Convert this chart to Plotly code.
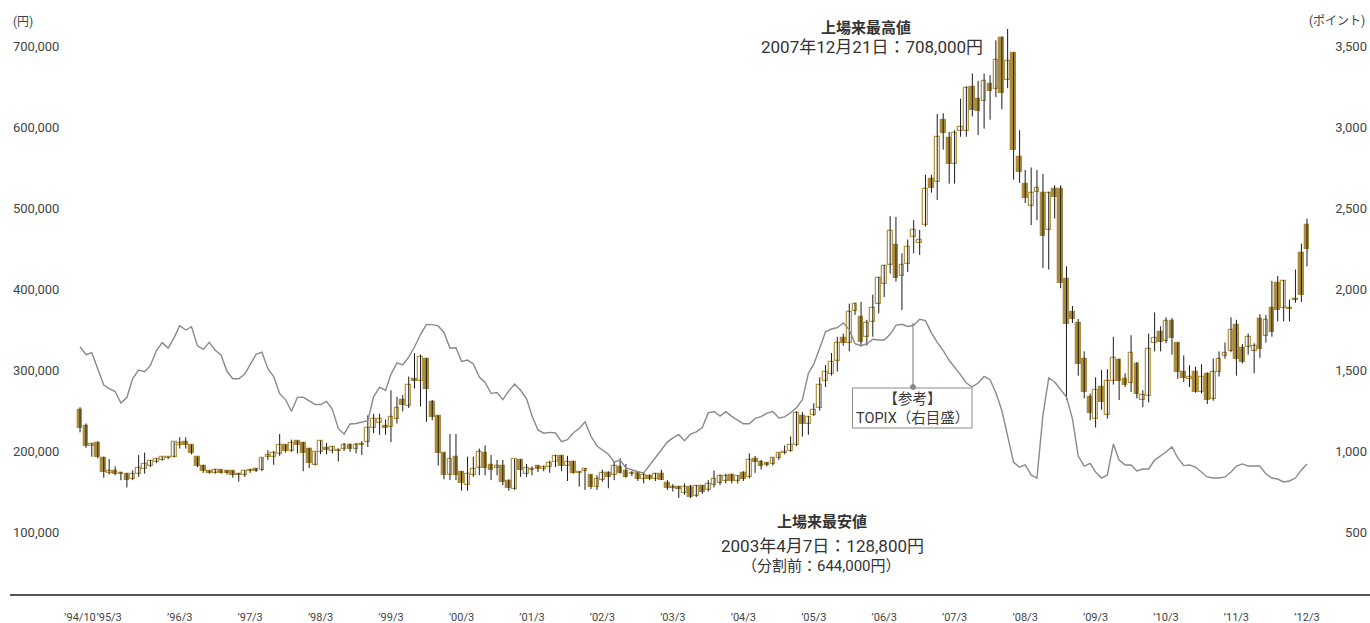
import plotly.graph_objects as go
import pandas as pd

# ---------------- data (thousand yen for price, points for TOPIX) ----------------
months = pd.date_range("1994-10-01", periods=210, freq="MS")

open_ = [251,231,206,210,191,173,175,173,172,166,172,178,182,187,189,191,193,207,211,207,
         192,182,175,173,176,175,175,172,170,175,178,177,193,193,196,207,200,212,210,203,
         183,199,204,200,200,202,207,202,208,211,229,234,231,230,240,263,255,289,286,314,
         261,243,197,170,193,174,158,170,179,197,183,179,182,163,153,189,172,177,181,178,
         180,187,194,182,187,173,175,170,156,164,173,170,180,175,171,173,165,169,165,172,
         161,155,155,148,156,145,157,152,158,161,163,170,163,173,168,190,186,185,184,191,
         197,200,207,243,233,245,253,286,295,311,339,333,373,366,341,359,382,406,430,454,
         416,431,464,457,479,536,532,609,587,554,595,595,649,635,632,653,647,710,658,691,
         563,530,503,520,518,473,523,523,412,372,358,313,267,239,279,244,286,312,289,284,
         307,263,268,333,347,336,361,333,298,289,297,273,295,264,297,317,324,356,327,328,
         323,363,342,376,408,377,377,388,445,479]
high = [254,234,210,212,193,190,181,174,173,176,195,198,189,191,193,193,211,217,217,208,
        193,183,176,178,177,176,176,173,176,178,179,192,201,200,221,208,214,213,211,204,
        199,213,210,206,203,210,209,210,212,244,246,246,239,275,267,269,292,321,319,315,
        263,244,198,221,221,175,193,193,203,207,195,189,189,165,190,190,184,181,182,182,
        188,195,195,194,188,175,179,171,170,177,175,187,191,184,175,175,174,171,173,177,
        164,159,157,160,158,158,158,164,176,171,172,172,170,175,197,194,189,186,192,198,
        207,218,249,248,243,259,291,306,321,341,345,382,383,384,362,393,415,430,490,489,
        444,461,485,473,541,541,616,617,594,596,635,650,666,657,666,664,707,712,721,692,
        596,547,550,547,542,520,528,528,428,379,363,323,271,291,300,301,341,314,296,343,
        310,275,345,371,354,365,364,334,318,306,304,307,297,314,323,334,365,362,332,345,
        333,369,368,410,416,411,387,424,456,487]
low = [223,204,193,191,167,171,170,164,155,164,168,172,180,185,188,190,192,203,203,196,
       180,173,172,172,172,171,167,162,168,173,174,175,189,183,194,198,199,197,175,179,
       182,196,196,197,187,200,199,197,195,205,222,220,220,211,234,249,253,277,255,236,
       238,182,165,164,164,151,151,168,170,170,164,170,158,151,152,168,168,170,174,175,
       173,180,175,163,172,156,152,153,152,162,154,164,172,167,169,163,160,164,163,164,
       152,150,142,146,142,143,147,150,155,158,160,160,160,163,166,173,177,181,182,189,
       196,199,206,218,220,243,250,279,293,298,330,323,368,329,330,341,370,390,419,409,
       374,421,444,442,477,519,510,572,530,530,588,588,613,590,598,609,637,622,648,535,
       531,506,479,485,426,424,487,401,263,358,293,265,238,229,251,240,282,263,279,273,
       265,254,260,323,323,333,319,289,285,279,272,271,258,262,292,314,322,293,308,319,
       296,315,334,341,360,360,360,383,384,428]
close = [229,206,209,193,174,175,171,171,164,172,179,184,188,190,192,193,211,210,207,197,
         181,175,173,177,173,173,170,170,175,177,175,191,195,197,207,200,210,208,198,185,
         199,212,201,205,201,208,203,208,209,229,239,239,229,242,253,257,281,287,316,277,
         242,197,170,190,170,160,172,178,199,179,177,182,162,154,190,177,179,178,178,180,
         185,194,182,187,173,174,178,155,165,173,168,182,173,168,173,165,170,165,171,164,
         154,154,153,156,143,157,149,159,165,169,169,163,169,165,189,187,182,183,191,197,
         199,208,247,233,242,251,282,297,310,333,333,371,381,335,358,377,414,428,472,414,
         430,452,473,461,523,525,588,592,554,592,600,648,621,620,657,644,683,642,682,571,
         544,512,519,525,466,518,514,407,357,363,308,273,247,275,260,286,315,287,282,321,
         270,269,326,340,335,361,339,298,290,291,273,291,263,298,313,321,350,313,310,341,
         330,326,362,347,374,410,375,386,393,449]
topix = [1644,1594,1607,1503,1407,1385,1367,1296,1330,1447,1500,1489,1528,1620,1669,1635,1700,1774,1747,1767,
         1649,1627,1671,1622,1593,1492,1446,1446,1475,1533,1597,1610,1508,1459,1354,1316,1245,1331,1332,1309,
         1287,1287,1306,1257,1139,1104,1167,1170,1179,1187,1334,1394,1374,1473,1544,1531,1579,1642,1719,1781,
         1780,1772,1732,1634,1637,1553,1561,1537,1456,1423,1356,1361,1317,1371,1414,1375,1322,1218,1130,1110,
         1115,1111,1058,1070,1111,1139,1180,1091,1031,1005,980,933,944,896,882,872,864,911,959,1009,
         1055,1081,1101,1064,1105,1118,1145,1235,1244,1215,1243,1214,1192,1168,1168,1201,1212,1234,1243,1204,
         1211,1236,1267,1317,1479,1536,1636,1736,1753,1761,1791,1749,1662,1650,1662,1690,1685,1685,1720,1776,
         1782,1769,1776,1813,1805,1729,1670,1620,1560,1520,1470,1420,1395,1420,1460,1440,1360,1250,1100,930,
         900,914,852,833,1222,1451,1426,1377,1333,1198,969,907,923,870,833,852,1043,944,914,914,
         877,889,889,944,969,994,1025,957,910,914,901,870,840,833,833,840,870,907,920,907,
         907,907,858,833,827,809,815,833,883,920]

tick_dates = ["1994-10-01", "1995-03-01", "1996-03-01", "1997-03-01", "1998-03-01", "1999-03-01",
              "2000-03-01", "2001-03-01", "2002-03-01", "2003-03-01", "2004-03-01", "2005-03-01",
              "2006-03-01", "2007-03-01", "2008-03-01", "2009-03-01", "2010-03-01", "2011-03-01",
              "2012-03-01"]
tick_labels = ["’94/10", "’95/3", "’96/3", "’97/3", "’98/3", "’99/3", "’00/3", "’01/3", "’02/3",
               "’03/3", "’04/3", "’05/3", "’06/3", "’07/3", "’08/3", "’09/3", "’10/3", "’11/3", "’12/3"]
left_ticks = [100000, 200000, 300000, 400000, 500000, 600000, 700000]
right_ticks = [500, 1000, 1500, 2000, 2500, 3000, 3500]

# ---------------- figure ----------------
W, H = 1370, 623
LM, RM, TM, BM = 10, 0, 20, 29
def px(x):
    return (x - LM) / (W - LM - RM)
def py(y):
    return 1 - (y - TM) / (H - TM - BM)

GOLD = "#A98B3B"
GOLD_LINE = "#B99A4A"
K = 1000

fig = go.Figure()

# wicks
wx, wy = [], []
for d, h, l in zip(months, high, low):
    wx += [d, d, None]
    wy += [l * K, h * K, None]
fig.add_trace(go.Scatter(x=wx, y=wy, mode="lines", line=dict(color="#1b1b1b", width=1),
                         hoverinfo="skip", yaxis="y"))

# bodies
base = [min(o, c) * K for o, c in zip(open_, close)]
hgt = [max(abs(c - o), 1.2) * K for o, c in zip(open_, close)]
fills = [GOLD if o > c else "white" for o, c in zip(open_, close)]
lines = [GOLD if o > c else GOLD_LINE for o, c in zip(open_, close)]
fig.add_trace(go.Bar(x=months, y=hgt, base=base, width=24.5 * 86400000,
                     marker=dict(color=fills, line=dict(color=lines, width=1.3)),
                     yaxis="y", hoverinfo="skip"))

# TOPIX
fig.add_trace(go.Scatter(x=months, y=topix, mode="lines", yaxis="y2",
                         line=dict(color="#8a8a8a", width=1.4), hoverinfo="skip"))

tickfont = dict(family="Roboto", size=13, color="#444")
fig.update_layout(
    width=W, height=H, margin=dict(l=LM, r=RM, t=TM, b=BM, autoexpand=False),
    paper_bgcolor="white", plot_bgcolor="white", showlegend=False,
    barmode="overlay", bargap=0,
    xaxis=dict(type="date", range=["1993-10-03", "2013-01-21 14:00"],
               tickvals=tick_dates, ticktext=tick_labels, tickangle=0, automargin=False,
               showgrid=False, zeroline=False,
               showline=True, linecolor="#555", linewidth=1.5, ticks="",
               ticklabelstandoff=12, tickfont=dict(family="Roboto", size=11, color="#444")),
    yaxis=dict(range=[23457, 732099], tickvals=left_ticks, tickformat=",", automargin=False,
               ticklabelposition="inside", showgrid=False, zeroline=False, showline=False,
               ticks="", tickfont=tickfont),
    yaxis2=dict(range=[117.28, 3660.5], tickvals=right_ticks, tickformat=",", automargin=False,
                overlaying="y", side="right", ticklabelposition="inside",
                showgrid=False, zeroline=False, showline=False, ticks="", tickfont=tickfont),
)

jp = "Roboto, Noto Sans CJK JP"
def note(text, x, y, size=15, bold=False, color="#333", xanchor="center"):
    if bold:
        text = "<b>" + text + "</b>"
    fig.add_annotation(text=text, x=px(x), y=py(y), xref="paper", yref="paper",
                       xanchor=xanchor, yanchor="middle", showarrow=False,
                       font=dict(family=jp, size=size, color=color))

note("(円)", 11, 22, size=12, xanchor="left", color="#444")
note("(ポイント)", 1367, 21, size=12, xanchor="right", color="#444")
note("上場来最高値", 866, 28, size=15, bold=True)
note("2007年12月21日：708,000円", 872, 47, size=17)
note("上場来最安値", 822, 522, size=15, bold=True)
note("2003年4月7日：128,800円", 822, 546, size=17)
note("（分割前：644,000円）", 821, 566, size=15)
note("【参考】<br>TOPIX（右目盛）", 912, 409, size=14.5, color="#3a3a3a")

# TOPIX callout box and leader
fig.add_shape(type="rect", xref="paper", yref="paper", x0=px(852.5), x1=px(972),
              y0=py(428), y1=py(388), line=dict(color="#8a8a8a", width=1), fillcolor="white",
              layer="below")
fig.add_shape(type="line", xref="paper", yref="paper", x0=px(913), x1=px(913),
              y0=py(323), y1=py(387), line=dict(color="#8a8a8a", width=1.2))
fig.add_shape(type="circle", xref="paper", yref="paper", x0=px(910.5), x1=px(915.5),
              y0=py(389.5), y1=py(384.5), line=dict(color="#8a8a8a", width=1), fillcolor="#8a8a8a")

fig.write_html("out.html", config={"displayModeBar": False},
               post_script="document.body.style.margin='0';document.body.style.overflow='hidden';")
